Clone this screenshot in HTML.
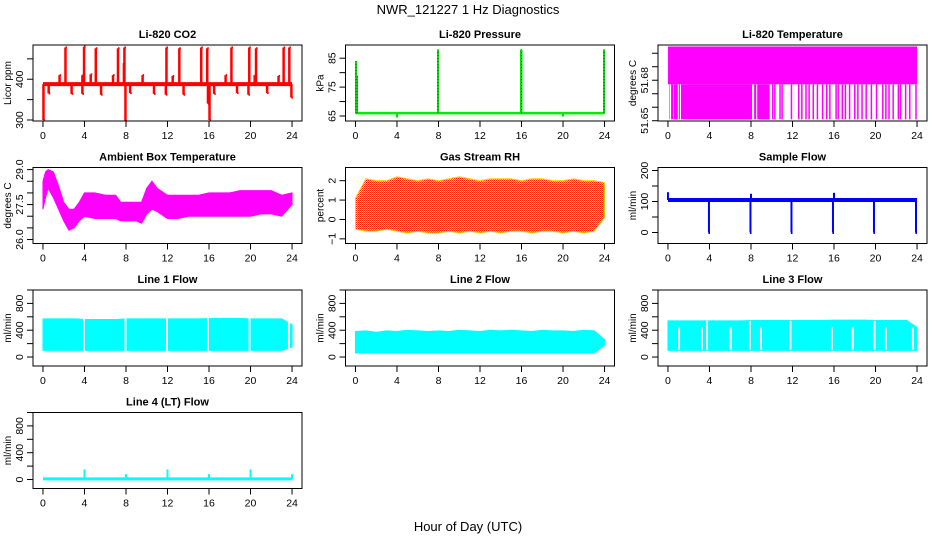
<!DOCTYPE html>
<html><head><meta charset="utf-8">
<style>
html,body{margin:0;padding:0;background:#fff;}
svg{display:block;font-family:"Liberation Sans",Arial,sans-serif;}
</style></head>
<body>
<svg id="chart" width="936" height="540" viewBox="0 0 936 540" xmlns="http://www.w3.org/2000/svg">
<defs>
<pattern id="rhpat" width="2" height="2" patternUnits="userSpaceOnUse">
<rect width="2" height="2" fill="#ffdd00"/>
<rect x="0" y="0" width="1" height="1" fill="#ff2000"/>
<rect x="1" y="1" width="1" height="1" fill="#ff5000"/>
</pattern>
</defs>
<text x="468" y="14" text-anchor="middle" font-size="13">NWR_121227  1 Hz Diagnostics</text>
<text x="468" y="531" text-anchor="middle" font-size="13">Hour of Day (UTC)</text>
</svg>
<script>
// ---- data ----
const xTicks = [0,4,8,12,16,20,24];
const hours = [0,1,2,3,4,5,6,7,8,9,10,11,12,13,14,15,16,17,18,19,20,21,22,23,24];
// CO2
const co2Base = 388;
const co2UpT = [2.17,3.96,5.09,7.23,7.85,11.9,13.14,15.25,15.83,18.16,19.88,20.53,23.19,23.74,1.6,3.8,4.6,6.75,7.8,9.6,12.5,17.6,20.4,22.7];
const co2UpV = [478,480,476,476,478,478,476,478,476,478,478,476,478,478,410,410,412,410,440,410,408,410,410,408];
const co2DnT = [0.05,7.95,16.05,0.55,2.76,3.8,5.6,8.4,10.7,11.84,13.55,15.9,16.5,18.7,19.8,21.6,23.94];
const co2DnV = [300,298,300,365,364,364,362,366,364,362,362,340,364,366,362,366,355];
// Pressure
const presBase = 66;
const presSpT = [0.05,0.15,7.95,15.95,16.0,23.95];
const presSpV = [84,79,88,88,88,88];
const presDipT = [4.0,20.0];
const presDipV = [64.5,64.8];
// Li-820 temperature
const tempTop = 51.705, tempMid = 51.677, tempLow = 51.651;
const tempFillStart = [0.1,0.3,0.55,1.05,1.25,8.3,8.6];
const tempFillEnd = [0.15,0.5,0.95,1.15,8.1,8.5,9.8];
const tempDropT = [10.1,10.3,10.8,11.0,11.9,12.6,12.9,13.3,13.6,14.0,14.4,14.9,15.3,15.6,16.2,16.4,16.8,17.1,17.5,18.0,18.3,18.7,19.1,19.6,20.1,20.7,21.0,21.3,21.7,22.2,22.4,22.9,23.3,23.9];
// Ambient temperature (half-hourly envelope)
const ambT  = [0,0.25,0.5,1,1.5,2,2.5,3,3.5,4,5,6,7,7.5,8,9,9.5,10,10.5,11,12,13,14,15,16,17,18,19,20,21,22,23,24];
const ambHi = [28.5,28.9,29.0,28.9,28.3,27.6,27.3,27.3,27.6,28.0,28.0,27.9,27.9,27.6,27.6,27.6,27.6,28.2,28.5,28.2,27.9,27.9,27.9,27.9,28.0,28.0,28.0,28.1,28.1,28.1,28.1,27.9,28.0];
const ambLo = [27.3,27.8,28.2,27.8,27.3,26.8,26.4,26.5,26.8,27.0,26.9,26.9,26.9,26.8,26.8,26.8,26.7,27.1,27.3,27.2,26.9,26.9,27.0,27.0,27.0,27.0,27.0,27.0,27.0,27.1,27.1,27.0,27.5];
// RH
const rhHi = [1.1,2.1,2.0,2.0,2.2,2.1,2.0,2.1,2.0,2.1,2.2,2.1,2.0,2.1,2.1,2.1,2.0,2.1,2.1,2.0,2.0,2.1,2.0,2.0,1.9];
const rhLo = [-0.5,-0.6,-0.6,-0.5,-0.6,-0.7,-0.6,-0.7,-0.7,-0.6,-0.7,-0.6,-0.7,-0.6,-0.7,-0.6,-0.6,-0.7,-0.6,-0.6,-0.7,-0.6,-0.7,-0.6,0.1];
// Sample flow
const sfBase = 105;
const sfDropT = [3.95,7.95,11.9,15.9,19.85,23.9];
const sfSpikeT = [0.0,8.0,16.0];
const sfSpikeV = [130,125,128];
// Line flows
const l1Hi = [570,570,570,570,560,560,560,560,570,570,570,570,570,570,570,570,575,575,575,575,570,570,570,570,480];
const l1Lo = [100,100,100,100,100,100,100,100,100,100,100,100,100,100,100,100,100,100,100,100,100,100,100,100,150];
const l1GapT = [3.95,7.95,11.95,15.9,19.9,23.7];
const l2Hi = [380,390,370,390,380,400,390,380,390,380,400,390,380,400,390,400,390,380,400,390,390,380,400,390,260];
const l2Lo = [60,60,60,60,60,60,60,60,60,60,60,60,60,60,60,60,60,60,60,60,60,60,60,60,180];
const l3Hi = [540,540,540,540,540,540,540,540,545,545,545,545,545,545,545,545,550,550,550,550,545,545,545,545,440];
const l3Lo = [100,100,100,100,100,100,100,100,100,100,100,100,100,100,100,100,100,100,100,100,100,100,100,100,100];
const l3GapT = [1.07,3.28,3.77,6.04,7.9,8.96,11.8,15.8,17.8,19.9,21.0,23.6];
const l3GapTop = [440,440,540,440,540,440,540,440,440,540,440,440];
// Line 4
const l4Base = 10;
const l4SpT = [4.0,8.0,12.0,16.0,20.0,24.0];
const l4SpV = [150,80,150,80,150,80];

// ---- layout ----
const svg = document.getElementById('chart');
const NS = 'http://www.w3.org/2000/svg';
function mk(tag, attrs, parent){ const e=document.createElementNS(NS,tag); for(const k in attrs) e.setAttribute(k,attrs[k]); (parent||svg).appendChild(e); return e; }

function panel(col,row,title,ylab,ymin,ymax,ticks,labels,name){
  const left = 33 + 312.5*col, w = 269;
  const top = 45 + 122.5*row, h = 76;
  const g = mk('g',{});
  
  
  const X = t => left + w*(t+0.96)/25.92;
  const Y = v => top + h - h*(v-ymin)/(ymax-ymin);
  const t = mk('text',{x:left+w/2,y:top-7,'text-anchor':'middle','font-size':'11','font-weight':'bold'},g);
  t.textContent = title;
  
  
  const xa = mk('g',{},g);
  
  
  mk('line',{x1:X(0),x2:X(24),y1:top+h,y2:top+h,stroke:'#000'},xa);
  xTicks.forEach(v=>{
    mk('line',{x1:X(v),x2:X(v),y1:top+h,y2:top+h+6,stroke:'#000'},xa);
    const l = mk('text',{x:X(v),y:top+h+18,'text-anchor':'middle','font-size':'10.5'},xa); l.textContent=v;
  });
  const ya = mk('g',{},g);
  
  
  mk('line',{x1:left,x2:left,y1:Y(ticks[0]),y2:Y(ticks[ticks.length-1]),stroke:'#000'},ya);
  ticks.forEach((v,i)=>{
    mk('line',{x1:left-6,x2:left,y1:Y(v),y2:Y(v),stroke:'#000'},ya);
    if(labels[i]!==''){
      const l = mk('text',{x:0,y:0,'text-anchor':'middle','font-size':'10.5',transform:`translate(${left-10},${Y(v)}) rotate(-90)`},ya);
      l.textContent = labels[i];
    }
  });
  const yl = mk('text',{x:0,y:0,'text-anchor':'middle','font-size':'10',transform:`translate(${left-22},${top+h/2}) rotate(-90)`},g);
  yl.textContent = ylab;
  
  
  const plot = mk('g',{},g);
  
  
  mk('rect',{x:left,y:top,width:w,height:h,fill:'none',stroke:'#000'},g);
  return {X,Y,g:plot};
}
function band(p,ts,hi,lo,fill){
  let pts = ts.map((t,i)=>p.X(t)+','+p.Y(hi[i]));
  for(let i=ts.length-1;i>=0;i--) pts.push(p.X(ts[i])+','+p.Y(lo[i]));
  return mk('polygon',{points:pts.join(' '),fill:fill,stroke:fill,'stroke-width':'1'},p.g);
}
function vline(p,t,v1,v2,col,wd){ return mk('line',{x1:p.X(t),x2:p.X(t),y1:p.Y(v1),y2:p.Y(v2),stroke:col,'stroke-width':wd||1.5},p.g); }
function hline(p,t1,t2,v,col,wd){ return mk('line',{x1:p.X(t1),x2:p.X(t2),y1:p.Y(v),y2:p.Y(v),stroke:col,'stroke-width':wd||1}, p.g); }

// CO2
let p = panel(0,0,'Li-820 CO2','Licor ppm',297.5,484,[300,350,400,450],['300','','400',''],'co2');
co2UpT.forEach((t,i)=>{ vline(p,t,co2Base,co2UpV[i],'#ff0000',2.5); hline(p,t,t+0.15,co2UpV[i],'#ff0000',2); });
co2DnT.forEach((t,i)=>{ vline(p,t,co2Base,co2DnV[i],'#ff0000',2.5); hline(p,t,t+0.15,co2DnV[i],'#ff0000',2); });
hline(p,0,24,co2Base,'#ff0000',4);

// Pressure
p = panel(1,0,'Li-820 Pressure','kPa',63.27,89.57,[65,70,75,80,85],['65','','75','','85'],'pressure');
hline(p,0,24,presBase,'#00ee00',2.5);
presSpT.forEach((t,i)=>{ vline(p,t,presBase,presSpV[i],'#00dd00',2); vline(p,t,presBase,presSpV[i],'#000',0.6).setAttribute('stroke-dasharray','1,2'); });
presDipT.forEach((t,i)=>{ vline(p,t,presBase,presDipV[i],'#00dd00',2); });

// Li-820 Temperature
p = panel(2,0,'Li-820 Temperature','degrees C',51.6498,51.7061,[51.65,51.66,51.67,51.68,51.69,51.70],['51.65','','','51.68','',''],'li820-temp');
mk('rect',{x:p.X(0),y:p.Y(tempTop),width:p.X(24)-p.X(0),height:p.Y(tempMid)-p.Y(tempTop),fill:'#ff00ff'},p.g);
tempFillStart.forEach((s,i)=>{ mk('rect',{x:p.X(s),y:p.Y(tempMid),width:p.X(tempFillEnd[i])-p.X(s),height:p.Y(tempLow)-p.Y(tempMid),fill:'#ff00ff'},p.g); });
tempDropT.forEach(t=>{ vline(p,t,tempMid,tempLow,'#ff00ff',1.5); });

// Ambient
p = panel(0,1,'Ambient Box Temperature','degrees C',25.83,29.09,[26,26.5,27,27.5,28,28.5,29],['26.0','','','27.5','','','29.0'],'ambient-temp');
band(p,ambT,ambHi,ambLo,'#ff00ff');

// RH
p = panel(1,1,'Gas Stream RH','percent',-1.24,2.68,[-1,0,1,2],['\u22121','0','1','2'],'gas-rh');
band(p,hours,rhHi,rhLo,'url(#rhpat)').setAttribute('stroke','#ffcc00');

// Sample flow
p = panel(2,1,'Sample Flow','ml/min',-35.5,209.7,[0,50,100,150,200],['0','','100','','200'],'sample-flow');
hline(p,0,24,sfBase,'#0000ff',4);
sfDropT.forEach(t=>{ vline(p,t,sfBase,0,'#0000ff',2); hline(p,t-0.05,t+0.1,0,'#0000ff',3); });
sfSpikeT.forEach((t,i)=>{ vline(p,t,sfBase,sfSpikeV[i],'#0000ff',2); });

// Line flows
const lt=[0,200,400,600,800,1000], ll=['0','','400','','800',''];
p = panel(0,2,'Line 1 Flow','ml/min',-134,1000,lt,ll,'line1-flow');
band(p,hours,l1Hi,l1Lo,'#00ffff');
l1GapT.forEach(t=>{ vline(p,t,l1Lo[0]-20,600,'#ffffff',2); });
p = panel(1,2,'Line 2 Flow','ml/min',-134,1000,lt,ll,'line2-flow');
band(p,hours,l2Hi,l2Lo,'#00ffff');
p = panel(2,2,'Line 3 Flow','ml/min',-134,1000,lt,ll,'line3-flow');
band(p,hours,l3Hi,l3Lo,'#00ffff');
l3GapT.forEach((t,i)=>{ vline(p,t,l3Lo[0]+10,l3GapTop[i],'#ffffff',2); });
p = panel(0,3,'Line 4 (LT) Flow','ml/min',-134,1000,lt,ll,'line4-flow');
hline(p,0,24,l4Base,'#00ffff',3);
l4SpT.forEach((t,i)=>{ vline(p,t,l4Base,l4SpV[i],'#00ffff',2); });
</script>
</body></html>
